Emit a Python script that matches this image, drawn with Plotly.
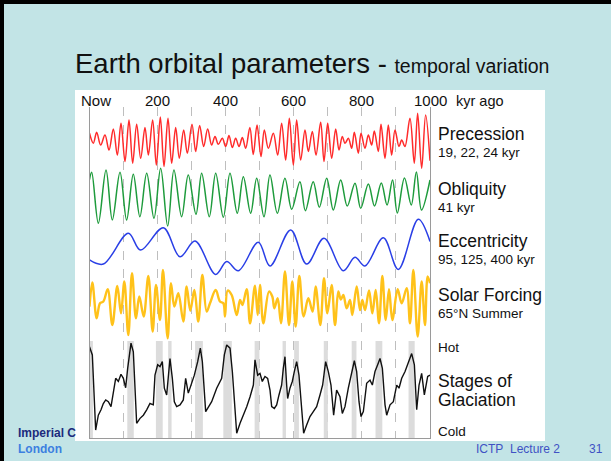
import plotly.graph_objects as go

W, H = 611, 461

# ---------------- data ----------------
# kyr before present, relative amplitude of each curve
PREC_T = [0, 11.3, 21, 32.8, 45.5, 57.3, 70, 81.7, 92.5, 104.3,
          116, 126.8, 138.5, 150.3, 163, 172.8, 185.5, 196.3, 208, 218.8,
          230.5, 241.3, 253.1, 263.8, 276.6, 287.3, 301, 311.8, 323.5, 335.3,
          347, 358.8, 368.6, 378.4, 390.1, 399.9, 409.7, 419.5, 429.3, 439.1,
          448.9, 458.7, 471, 481, 492, 503.7, 513.4, 525.2, 539.9, 552.6,
          564.3, 576.1, 586.9, 598.6, 608.4, 620.2, 632.9, 642.7, 654.4, 665.2,
          678.9, 688.7, 699.5, 711.3, 723, 732.8, 742.5, 750.4, 760.2, 769.9,
          777.8, 789.5, 797.4, 809.1, 818.9, 828.7, 836.5, 848.3, 856.1, 867.8,
          877.6, 887.4, 897.2, 908.9, 916.8, 926.5, 941.2, 953.9, 963.7, 975.5,
          987.2, 1000]
PREC_V = [0.40, 0.00, 0.44, -0.07, 0.33, -0.27, 0.57, -0.47, 0.80, -0.73,
          0.93, -0.80, 0.76, -0.60, 0.63, -0.47, 0.93, -0.87, 1.05, -0.93,
          1.00, -0.80, 0.63, -0.60, 0.53, -0.40, 0.76, -0.33, 0.71, -0.13,
          0.57, -0.07, 0.27, -0.04, 0.20, -0.13, 0.31, -0.17, 0.20, -0.13,
          0.23, -0.20, 0.63, -0.45, 0.73, -0.53, 0.53, -0.20, 0.40, -0.47,
          0.80, -0.67, 1.00, -0.87, 0.93, -0.67, 0.53, -0.33, 0.47, -0.47,
          0.84, -0.73, 0.80, -0.60, 0.57, -0.27, 0.27, 0.00, 0.20, -0.20,
          0.44, -0.40, 0.40, -0.20, 0.33, -0.07, 0.49, -0.33, 0.76, -0.60,
          0.73, -0.47, 0.53, -0.13, 0.13, -0.13, 1.00, -0.80, 1.20, -1.00,
          1.13, -0.70]

OBLQ_T = [0, 6.4, 26, 48.5, 67, 89.6, 109, 128.6, 148, 168,
          189.4, 209, 229.6, 248, 270.6, 290, 312.8, 329.4, 351.8, 370.6,
          393, 412.6, 434, 451.8, 473.3, 491, 512.5, 530, 551.6, 574,
          593.8, 618, 634, 657, 675, 696.6, 716, 737.7, 757, 779.7,
          796.5, 819, 837, 857, 874, 890, 904, 925, 945, 960,
          975, 1000]
OBLQ_V = [0.70, 0.99, -1.05, 1.08, -0.92, 0.99, -0.92, 0.91, -0.79, 0.95,
          -0.85, 1.15, -1.16, 1.08, -0.79, 0.88, -0.69, 0.95, -0.79, 0.95,
          -0.81, 0.95, -0.65, 0.81, -0.65, 0.75, -0.79, 0.88, -0.65, 0.75,
          -0.49, 0.61, -0.55, 0.61, -0.41, 0.75, -0.52, 0.68, -0.36, 0.55,
          -0.45, 0.52, -0.36, 0.56, -0.32, 0.68, -0.64, 0.76, -0.32, 1.00,
          -0.52, 0.68]

ECC_T = [0, 40.6, 114, 150, 216.8, 265.8, 310, 370.6, 403, 437,
         495.7, 530, 590.8, 637.9, 688.7, 745.4, 779.7, 809, 862.9, 906.9,
         965.6, 1000]
ECC_V = [-0.46, -0.61, 0.49, -0.11, 0.69, -0.35, 0.21, -0.98, -0.52, -0.85,
         0.17, -0.68, 0.61, -0.61, 0.31, -0.85, -0.37, -0.68, 0.33, -0.80,
         0.99, 0.20]

SOLAR_T = [0, 8.3, 21.0, 30.8, 40.6, 53.5, 67.1, 81.7, 92.5, 102.3,
           114.0, 124.8, 136.5, 146.3, 159.1, 172.8, 185.5, 195.3, 207.0, 215.8,
           229.5, 239.3, 249.1, 260.8, 275.5, 285.3, 296, 307.9, 319.6, 331.4,
           344.1, 353.9, 370.6, 383.3, 393.1, 398.0, 405.8, 417.6, 432.3, 442.1,
           449.0, 461.7, 471.5, 486.0, 493.9, 500.7, 510.5, 527.1, 536.9, 542.8,
           552.6, 562.4, 574.1, 585.9, 595.6, 605.4, 616.2, 628.9, 642.6, 655.4,
           664.2, 677.9, 688.7, 698.5, 711.2, 721.0, 730.8, 738, 745.5, 755.3,
           765.1, 771.9, 784.7, 794.5, 801.3, 809.2, 820.9, 830.7, 840.5, 850.3,
           860.1, 869.9, 879.7, 889.4, 905.1, 916.8, 931.5, 941.3, 951.1, 963.8,
           975.5, 985.3, 993.2, 1000]
SOLAR_V = [-0.13, 0.83, -0.60, 0.00, 0.07, 0.56, -0.87, 0.69, -0.40, 0.87,
           -1.27, 1.20, -0.60, 0.27, -0.53, 1.09, -1.13, 0.73, -0.67, 1.33,
           -1.40, 0.80, -0.13, 0.40, -0.73, 0.67, -0.30, 0.53, -0.73, 1.13,
           -0.33, 0.00, 0.53, 0.07, 0.00, -0.53, 0.51, 0.33, -0.47, 0.13,
           -0.07, 0.56, -0.80, 0.70, -0.47, 0.73, -0.80, 0.47, 0.27, -0.20,
           0.20, -0.80, 1.27, -0.87, 0.87, -0.93, 1.09, -0.53, 0.20, -0.33,
           0.67, -0.87, 1.00, -0.40, 0.73, -0.87, 0.47, 0.15, 0.33, -0.20,
           0.13, -0.47, 0.67, -0.27, 0.13, -0.27, 0.51, -0.40, 0.53, -0.80,
           1.09, -0.67, 0.56, -0.67, 0.56, 0.00, 0.60, -0.80, 1.33, -1.33,
           0.87, -0.87, 1.07, 0.80]

GLAC_T = [0, 8.3, 18.1, 25.9, 33.8, 40.6, 47.6, 55.3, 63.2, 70.0,
          76.9, 84.7, 92.5, 99.4, 106.2, 112.1, 121.9, 128.7, 133.6, 138.5,
          148.3, 158.1, 167.9, 177.6, 187.4, 192.3, 200.2, 207.0, 213.9, 219.8,
          226.6, 236.4, 243.3, 249.1, 256.0, 265.8, 275.5, 282.4, 290.2, 298.1,
          307.9, 317.7, 325.5, 331.4, 341.2, 358.8, 373.5, 388.2, 396.0, 402.9,
          412.7, 419.5, 425.4, 432.3, 442.1, 451.9, 461.7, 471.5, 481.3, 486.0,
          493.9, 500.7, 507.5, 515.4, 523.2, 530.1, 535.0, 542.8, 549.7, 556.5,
          564.3, 569.2, 574.1, 579.0, 581.9, 588.7, 595.6, 601.5, 608.4, 615.2,
          623.1, 628.9, 637.7, 647.5, 657.3, 667.1, 676.9, 684.7, 693.5, 701.4,
          709.2, 717.0, 725.8, 735.6, 742.5, 750.3, 760.1, 769.9, 777.8, 784.6,
          791.5, 797.4, 804.2, 814.0, 823.8, 830.7, 838.5, 846.3, 853.2, 860.1,
          867.9, 872.8, 882.6, 892.4, 902.2, 909.0, 916.9, 926.7, 936.4, 946.2,
          954.1, 960.9, 967.8, 975.5, 983.4, 993.2, 1000]
GLAC_V = [0.96, 0.78, -0.89, -0.56, -0.44, -0.30, -0.22, -0.26, -0.37, -0.07,
          0.26, 0.19, 0.35, 0.26, 0.05, 0.48, 1.04, 0.85, 0.11, -0.74,
          -0.63, -0.56, -0.44, -0.30, -0.33, 0.33, 0.56, 0.52, 0.63, 0.04,
          -0.11, 0.70, 0.26, -0.26, -0.37, -0.33, -0.22, 0.26, -0.07, 0.11,
          0.33, 0.63, 0.93, 0.63, -0.48, -0.26, 0.04, 0.26, 0.78, 1.00,
          0.93, 0.41, -0.26, -0.96, -0.74, -0.56, -0.37, -0.15, 0.11, 0.67,
          0.33, 0.37, 0.19, 0.30, 0.26, 0.00, -0.37, -0.41, -0.33, -0.11,
          0.11, 0.48, 0.74, 0.11, -0.19, 0.04, 0.19, 0.41, 0.63, 0.33,
          -0.48, -0.96, -0.78, -0.59, -0.48, -0.37, -0.11, 0.11, 0.63, 0.41,
          0.11, -0.56, 0.00, -0.15, -0.52, -0.37, 0.04, 0.41, 0.65, 0.41,
          -0.26, -0.59, -0.48, 0.15, 0.22, 0.11, 0.41, 0.56, 0.70, 0.48,
          -0.33, -0.56, -0.33, -0.26, 0.11, 0.04, 0.26, 0.41, 0.63, 0.81,
          0.56, -0.44, 0.11, 0.37, -0.11, 0.30, 0.33]

INTERGLACIAL_START = [0, 111, 195, 231, 310, 393, 485, 567, 601, 688, 770, 840, 937]
INTERGLACIAL_END = [10, 130, 215, 241, 333, 418, 499, 577, 615, 700, 784, 860, 955]

TICK_VALS = [0, 200, 400, 600, 800, 1000]
TICK_TEXT = ["Now", "200", "400", "600", "800", "1000"]

for a, b in [(PREC_T, PREC_V), (OBLQ_T, OBLQ_V), (ECC_T, ECC_V),
             (SOLAR_T, SOLAR_V), (GLAC_T, GLAC_V)]:
    assert len(a) == len(b)

# ---------------- geometry / style ----------------
FONT = "Liberation Sans, Arial, sans-serif"
BG = "#C2E4E6"
X_LEFT, X_RIGHT = 89.5, 430.0      # plot area, px
TOP, BOT = 107.0, 438.0
GLAC_BAND_TOP = 341.0


def fy(p):
    return 1 - p / H


def fx(p):
    return p / W


def band_range(center, scale):
    return [(center - BOT) / scale, (center - TOP) / scale]


fig = go.Figure()

mids = [(s + e) / 2 for s, e in zip(INTERGLACIAL_START, INTERGLACIAL_END)]
widths = [e - s for s, e in zip(INTERGLACIAL_START, INTERGLACIAL_END)]
band_h = (BOT - GLAC_BAND_TOP) / (BOT - TOP)
fig.add_trace(go.Bar(x=mids, y=[band_h] * len(mids), width=widths, base=0,
                     marker=dict(color="#DCDCDC", line=dict(width=0)),
                     xaxis="x", yaxis="y", hoverinfo="skip", showlegend=False))

series = [
    (PREC_T, PREC_V, "y2", "#FF2B2B", 1.5, "spline"),
    (OBLQ_T, OBLQ_V, "y3", "#1E9B3C", 1.5, "spline"),
    (ECC_T, ECC_V, "y4", "#2A3FE6", 1.5, "spline"),
    (SOLAR_T, SOLAR_V, "y5", "#FFC21A", 2.4, "spline"),
    (GLAC_T, GLAC_V, "y6", "#111111", 1.4, "linear"),
]
for t, v, ya, col, lw, shp in series:
    fig.add_trace(go.Scatter(x=t, y=v, xaxis="x", yaxis=ya, mode="lines",
                             line=dict(color=col, width=lw, shape=shp),
                             hoverinfo="skip", showlegend=False))

bands = {"yaxis2": (143.3, 25), "yaxis3": (197, 25), "yaxis4": (247, 28),
         "yaxis5": (303.3, 25), "yaxis6": (390, 45)}

layout = dict(
    width=W, height=H, autosize=False,
    margin=dict(l=0, r=0, t=0, b=0, pad=0),
    paper_bgcolor=BG, plot_bgcolor="white",
    showlegend=False, barmode="overlay",
    font=dict(family=FONT, color="#111111"),
    xaxis=dict(domain=[fx(X_LEFT), fx(X_RIGHT)], range=[0, 1000],
               tickmode="array", tickvals=list(range(0, 1001, 100)),
               showticklabels=False, ticks="",
               showgrid=True, griddash="dash", gridcolor="#BEBEBE", gridwidth=1,
               zeroline=False, showline=True, linecolor="#9A9A9A", linewidth=1,
               mirror=False, fixedrange=True),
    yaxis=dict(domain=[fy(BOT), fy(TOP)], range=[0, 1], showgrid=False,
               zeroline=False, showticklabels=False, ticks="",
               showline=True, linecolor="#9A9A9A", linewidth=1, mirror=True,
               fixedrange=True),
)
for name, (c, a) in bands.items():
    layout[name] = dict(overlaying="y", anchor="x", range=band_range(c, a),
                        visible=False, fixedrange=True)

shapes = [
    dict(type="rect", xref="paper", yref="paper", x0=fx(75), x1=fx(545),
         y0=fy(441), y1=fy(90), fillcolor="white", line=dict(width=0), layer="below"),
    dict(type="rect", xref="paper", yref="paper", x0=0, x1=fx(4), y0=0, y1=1,
         fillcolor="black", line=dict(width=0), layer="above"),
    dict(type="rect", xref="paper", yref="paper", x0=0, x1=1, y0=fy(4), y1=1,
         fillcolor="black", line=dict(width=0), layer="above"),
]
layout["shapes"] = shapes


def ann(text, x, y, size, color="#111111", xanchor="left", bold=False):
    t = f"<b>{text}</b>" if bold else text
    return dict(text=t, x=fx(x), y=fy(y), xref="paper", yref="paper",
                xanchor=xanchor, yanchor="middle", showarrow=False,
                font=dict(size=size, color=color, family=FONT))


annots = [
    ann("Earth orbital parameters - <span style='font-size:19.5px'>temporal variation</span>",
        73, 64, 27.5),
    ann("kyr ago", 454, 100.5, 14.5),
    ann("Precession", 436, 134.5, 17.5),
    ann("19, 22, 24 kyr", 436, 152.5, 13.5),
    ann("Obliquity", 436, 188.5, 17.5),
    ann("41 kyr", 436, 207, 13.5),
    ann("Eccentricity", 436, 241, 17.5),
    ann("95, 125, 400 kyr", 436, 259, 13.5),
    ann("Solar Forcing", 436, 295, 17.5),
    ann("65°N Summer", 436, 313.5, 13.5),
    ann("Hot", 436, 347.5, 13.5),
    ann("Stages of", 436, 381, 17.5),
    ann("Glaciation", 436, 400, 17.5),
    ann("Cold", 436, 431.5, 13.5),
    ann("Imperial C", 16, 433, 12, color="#1B2A7C", bold=True),
    ann("London", 16, 448.5, 12, color="#3C7FE0", bold=True),
    ann("ICTP&nbsp;&nbsp;Lecture 2", 474, 449, 12, color="#3F52C4"),
    ann("31", 587, 449, 12, color="#3F52C4"),
]
# top time labels placed on the time axis scale
for val, txt in zip(TICK_VALS, TICK_TEXT):
    annots.append(dict(text=txt, x=val, xref="x", y=fy(100.5), yref="paper",
                       xanchor="center", yanchor="middle", showarrow=False,
                       xshift=6 if val == 0 else 0,
                       font=dict(size=15, color="#111111", family=FONT)))
layout["annotations"] = annots

fig.update_layout(**layout)
fig.write_html("out.html")
